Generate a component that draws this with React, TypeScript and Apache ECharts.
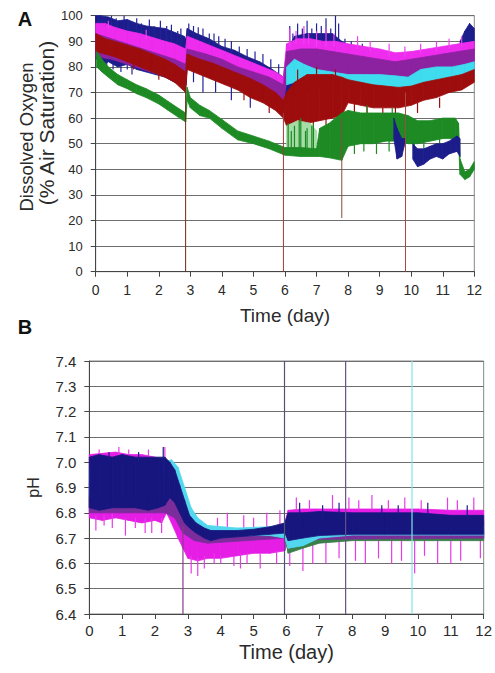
import React, { useEffect, useRef } from 'react';
import * as echarts from 'echarts';

type Row = [number, number, number]; // [day, low, high]

// ---------- Panel A: Dissolved oxygen (% air saturation), noisy bands ----------
const navyA: Row[] = [
  [0.0, 84, 100], [0.15, 80, 100], [0.4, 82, 99.5], [0.7, 80, 98], [1.0, 81, 98.5],
  [1.3, 79, 97], [1.6, 78, 96], [1.9, 77, 95.5], [2.2, 76, 95], [2.5, 74, 93.5],
  [2.8, 73, 92], [2.86, 73, 91], [2.9, 80, 95], [3.2, 79, 93], [3.6, 77, 91],
  [4.0, 74, 88], [4.4, 72, 86.5], [4.8, 70, 84], [5.2, 68, 82], [5.6, 66, 79],
  [5.95, 64, 76], [6.05, 66, 86], [6.3, 68, 92], [6.7, 70, 93], [7.1, 72, 93],
  [7.5, 74, 93], [7.8, 74, 90], [8.2, 74, 87], [8.6, 74, 86], [9.0, 73, 85], [9.4, 72, 84],
];
const navyEndA: Row[] = [[11.55, 84, 90], [11.7, 86, 94], [11.85, 87, 97], [12.0, 86, 95]];
const navyDipA1: Row[] = [[9.45, 52, 60], [9.55, 44, 56], [9.7, 45, 52], [9.8, 50, 52]];
const navyDipA2: Row[] = [
  [10.05, 44, 50], [10.2, 41, 48], [10.4, 42, 48], [10.6, 44, 49], [10.8, 45, 50],
  [11.0, 44, 50], [11.2, 46, 51], [11.45, 47, 53], [11.55, 45, 52],
];
const navySpikesA: Row[] = [
  [0.1, 96, 100], [0.2, 95, 100], [0.3, 94, 99], [0.5, 94, 100], [0.65, 93, 99], [0.9, 93, 100],
  [1.05, 92, 98], [1.3, 92, 99], [1.45, 91, 97], [1.7, 91, 98.5], [1.85, 90, 96], [2.05, 90, 98],
  [2.25, 89, 96], [2.4, 89, 96.5], [2.6, 88, 94], [2.7, 88, 95], [2.95, 92, 97], [3.1, 91, 96],
  [3.25, 90, 95.5], [3.4, 89, 95], [3.6, 88, 93], [3.75, 87, 93], [3.9, 86, 92], [4.1, 85, 91],
  [4.3, 84, 90], [4.55, 83, 88], [4.8, 81, 87], [5.05, 80, 86], [5.3, 79, 85], [5.55, 78, 83],
  [5.8, 76, 81], [6.15, 88, 96], [6.25, 88, 93], [6.4, 89, 97], [6.55, 89, 95], [6.7, 90, 98],
  [6.85, 90, 95], [7.0, 90, 97], [7.15, 90, 96], [7.3, 89, 99], [7.45, 89, 95], [7.6, 88, 100],
  [7.7, 88, 97], [7.9, 86, 91], [8.1, 85, 90], [8.3, 85, 89], [8.45, 84, 89],
  [0.35, 77, 84], [0.55, 79, 84], [0.8, 78, 83], [1.0, 79, 83], [1.15, 77, 82], [3.1, 74, 80],
  [3.4, 70, 78], [3.8, 70, 76], [4.3, 67, 73], [4.9, 64, 70],
];
const magentaA: Row[] = [
  [0.0, 88, 97], [0.3, 87, 97], [0.6, 86, 95.5], [1.0, 85, 94], [1.4, 83, 93],
  [1.8, 81, 91.5], [2.2, 80, 90], [2.5, 78, 89], [2.85, 76, 87], [2.9, 83, 92],
  [3.3, 81, 90], [3.7, 79, 88], [4.1, 77, 86], [4.5, 75, 84], [4.9, 73, 82],
  [5.3, 71, 80], [5.7, 69, 78], [5.95, 67, 76], [6.05, 76, 89], [6.4, 78, 91],
  [6.8, 79, 91], [7.2, 79, 90], [7.6, 80, 90], [8.0, 79, 89], [8.5, 78, 88],
  [9.0, 77, 87], [9.5, 77, 85.5], [10.0, 78, 86], [10.5, 79, 87], [11.0, 79, 88],
  [11.5, 80, 89], [12.0, 81, 90],
];
const magentaSpikesA: Row[] = [
  [6.15, 88, 95], [6.35, 89, 94], [6.6, 89, 96], [6.75, 89, 93], [7.0, 88, 94], [7.3, 88, 95],
  [7.55, 88, 93], [8.3, 87, 92], [8.7, 86, 90], [9.3, 84, 89], [9.8, 84, 88], [10.3, 85, 89],
  [10.8, 86, 90], [11.2, 87, 91], [11.6, 88, 92], [0.4, 95, 98], [1.6, 91, 94.5],
];
const purpleA: Row[] = [
  [0.0, 84, 93], [0.5, 83, 91], [1.0, 81, 89], [1.5, 79, 87], [2.0, 77, 85],
  [2.5, 75, 83], [2.85, 73, 81], [2.9, 80, 87], [3.5, 78, 85], [4.0, 76, 83],
  [4.5, 73, 80], [5.0, 71, 78], [5.5, 69, 76], [5.95, 66, 73], [6.05, 74, 86],
  [6.5, 76, 87], [7.0, 76, 87], [7.5, 76, 86], [8.0, 75, 85], [8.5, 74, 84],
  [9.0, 73, 83], [9.5, 73, 82], [10.0, 74, 83], [10.5, 75, 84], [11.0, 76, 85],
  [11.5, 77, 86], [12.0, 78, 87],
];
const cyanA: Row[] = [
  [6.05, 73, 80], [6.3, 74, 83], [6.6, 74, 81], [7.0, 73, 79], [7.5, 72, 78],
  [8.0, 72, 77], [8.5, 71, 77], [9.0, 71, 77], [9.5, 70, 76.5], [9.9, 70, 76],
  [10.3, 73, 79], [10.8, 74, 80], [11.3, 75, 80], [11.7, 76, 81], [12.0, 77, 82],
];
const redA: Row[] = [
  [0.0, 86, 93], [0.3, 85, 91], [0.6, 84, 90], [1.0, 82, 88.5], [1.4, 80, 87],
  [1.8, 78, 85], [2.2, 76, 83], [2.5, 74, 81], [2.85, 70, 78], [2.9, 79, 85],
  [3.3, 77, 83], [3.7, 75, 81.5], [4.1, 73, 79.5], [4.5, 71, 77.5], [4.9, 68, 75.5],
  [5.3, 66, 73], [5.7, 63, 70], [5.95, 60, 67], [6.05, 57, 70], [6.3, 57, 74],
  [6.7, 58, 77], [7.1, 59, 77], [7.5, 60, 77], [7.8, 61, 76], [8.0, 66, 75],
  [8.4, 65, 74], [8.8, 64, 73], [9.2, 64, 72.5], [9.6, 64, 72], [10.0, 65, 72.5],
  [10.4, 67, 74], [10.8, 68, 75], [11.2, 70, 76], [11.6, 71, 77], [12.0, 74, 79],
];
const redSpikesA: Row[] = [
  [6.2, 55, 60], [6.5, 54, 58], [6.9, 55, 59], [7.3, 56, 61], [8.2, 60, 66], [8.6, 61, 65],
  [9.1, 60, 64], [9.5, 61, 65], [10.2, 62, 66], [10.9, 64, 68], [6.4, 70, 79], [7.0, 72, 80], [7.6, 72, 79],
  [1.2, 79, 83], [2.0, 75, 79], [4.7, 67, 71], [5.5, 62, 66],
];
const lightGreenA: Row[] = [[6.05, 47, 57], [6.4, 47, 59], [6.8, 47, 58], [7.0, 47, 55]];
const greenA: Row[] = [
  [0.03, 80, 86], [0.2, 78, 83], [0.4, 76, 80], [0.7, 73, 77], [1.0, 71.5, 75],
  [1.3, 69.5, 73], [1.6, 68, 71.5], [2.0, 65.5, 69], [2.3, 63, 66.5], [2.6, 60.5, 64],
  [2.85, 58.5, 62], [2.9, 67, 72], [3.0, 64, 68], [3.3, 61, 65], [3.6, 60, 63],
  [4.0, 56, 59.5], [4.5, 51.5, 55], [5.0, 50, 53], [5.5, 48, 51], [6.0, 45.5, 48.5],
  [6.5, 45, 48.5], [7.0, 45, 48], [7.1, 45, 56], [7.4, 44.5, 58], [7.8, 43.5, 62],
  [8.0, 49, 63], [8.4, 50, 62], [8.8, 50, 62], [9.2, 51, 62], [9.6, 51, 62],
  [9.9, 50, 61], [10.2, 50, 59], [10.6, 51, 59], [11.0, 52, 60], [11.4, 52, 60],
  [11.5, 50, 58], [11.55, 38, 44], [11.7, 36, 39], [11.85, 37, 40], [12.0, 40, 43],
];
const greenSpikesA: Row[] = [
  [6.1, 47, 58], [6.2, 48, 55], [6.3, 47, 57], [6.45, 48, 59], [6.5, 47, 60], [6.65, 48, 55],
  [6.7, 47, 56], [6.85, 48, 57], [6.9, 47, 58], [8.2, 46, 50], [8.5, 47, 51], [8.9, 46, 51],
  [9.3, 47, 52], [9.7, 47, 51], [10.1, 47, 51], [10.4, 48, 52], [10.9, 48, 52], [11.3, 47, 52],
  [8.6, 62, 65], [9.4, 62, 64],
];
// sampling events: [day, low, high]
const dropsA: Row[] = [[2.85, 0, 73], [5.95, 0, 62], [7.8, 21, 60], [9.82, 0, 70]];

// ---------- Panel B: pH ----------
const magentaB: Row[] = [
  [0.0, 6.78, 7.03], [0.4, 6.77, 7.035], [0.8, 6.78, 7.04], [1.2, 6.77, 7.03],
  [1.6, 6.76, 7.03], [2.0, 6.77, 7.02], [2.2, 6.76, 7.01], [2.35, 6.8, 6.98],
  [2.5, 6.76, 6.9], [2.7, 6.7, 6.82], [2.85, 6.66, 6.76], [3.0, 6.62, 6.74],
  [3.3, 6.61, 6.72], [3.6, 6.62, 6.71], [4.0, 6.62, 6.72], [4.5, 6.63, 6.72],
  [5.0, 6.64, 6.72], [5.5, 6.64, 6.73], [5.95, 6.65, 6.76], [6.05, 6.69, 6.81],
  [6.5, 6.7, 6.815], [7.0, 6.7, 6.815], [8.0, 6.7, 6.815], [9.0, 6.7, 6.815],
  [10.0, 6.7, 6.815], [11.0, 6.7, 6.81], [12.0, 6.7, 6.81],
];
const magentaSpikesB: Row[] = [
  [0.7, 6.74, 6.8], [1.1, 6.71, 6.78], [1.9, 6.72, 6.78], [2.2, 6.72, 6.78],
  [0.2, 6.73, 6.79], [0.45, 6.75, 6.79], [1.4, 6.74, 6.78], [1.7, 6.72, 6.78],
  [0.3, 7.02, 7.05], [0.9, 7.0, 7.06], [1.2, 7.02, 7.05], [1.8, 7.02, 7.05], [2.3, 7.0, 7.06],
  [3.1, 6.56, 6.63], [3.3, 6.55, 6.62], [3.5, 6.58, 6.63], [3.8, 6.6, 6.64], [4.0, 6.6, 6.63],
  [4.4, 6.59, 6.63], [4.6, 6.58, 6.64], [4.8, 6.6, 6.64], [5.2, 6.58, 6.64], [5.7, 6.6, 6.65],
  [3.9, 6.71, 6.78], [4.2, 6.72, 6.8], [4.7, 6.72, 6.79], [5.0, 6.72, 6.78], [5.4, 6.73, 6.8], [5.8, 6.74, 6.81],
  [6.1, 6.59, 6.7], [6.5, 6.57, 6.7], [6.8, 6.6, 6.7], [7.2, 6.6, 6.7], [7.6, 6.62, 6.7],
  [8.1, 6.61, 6.7], [8.4, 6.6, 6.7], [8.8, 6.62, 6.7], [9.2, 6.6, 6.7], [9.5, 6.61, 6.7],
  [9.9, 6.56, 6.7], [10.2, 6.63, 6.7], [10.6, 6.6, 6.7], [11.0, 6.6, 6.7], [11.3, 6.61, 6.7], [11.9, 6.62, 6.7],
  [6.3, 6.81, 6.86], [6.7, 6.81, 6.85], [7.4, 6.81, 6.87], [7.9, 6.81, 6.86], [8.2, 6.81, 6.85],
  [8.6, 6.81, 6.87], [9.1, 6.81, 6.85], [9.6, 6.81, 6.86], [10.1, 6.81, 6.85], [10.9, 6.81, 6.86],
  [11.2, 6.81, 6.85], [11.7, 6.81, 6.86],
];
const greenB: Row[] = [
  [0.0, 6.82, 6.87], [1.3, 6.82, 6.87], [2.3, 6.83, 6.88], [2.45, 6.84, 6.9],
  [2.75, 6.78, 6.86], [3.0, 6.73, 6.78], [3.5, 6.7, 6.73], [5.95, 6.71, 6.74],
  [6.05, 6.64, 6.7], [6.5, 6.66, 6.71], [7.0, 6.68, 6.72], [8.0, 6.69, 6.73], [12.0, 6.69, 6.73],
];
const purpleB: Row[] = [
  [0.0, 6.8, 6.92], [2.3, 6.8, 6.92], [2.6, 6.78, 6.88], [2.85, 6.72, 6.8],
  [3.2, 6.69, 6.74], [3.6, 6.68, 6.72], [5.95, 6.7, 6.74], [6.05, 6.68, 6.76],
  [7.0, 6.695, 6.77], [12.0, 6.7, 6.77],
];
const cyanB: Row[] = [
  [0.0, 6.86, 6.98], [2.3, 6.86, 7.0], [2.5, 6.88, 7.01], [2.7, 6.86, 6.98],
  [2.9, 6.8, 6.9], [3.1, 6.76, 6.82], [3.3, 6.74, 6.78], [3.6, 6.72, 6.75],
  [4.5, 6.71, 6.74], [5.5, 6.71, 6.745], [5.95, 6.7, 6.75], [6.05, 6.66, 6.74],
  [6.5, 6.67, 6.74], [7.0, 6.7, 6.75], [8.0, 6.712, 6.75], [12.0, 6.712, 6.75],
];
const navyB: Row[] = [
  [0.0, 6.82, 7.02], [0.3, 6.81, 7.03], [0.7, 6.82, 7.02], [1.0, 6.82, 7.03],
  [1.4, 6.82, 7.02], [1.8, 6.81, 7.02], [2.1, 6.82, 7.02], [2.3, 6.83, 7.02],
  [2.45, 6.86, 7.0], [2.6, 6.84, 6.97], [2.75, 6.8, 6.91], [2.9, 6.76, 6.85],
  [3.05, 6.74, 6.79], [3.25, 6.72, 6.76], [3.5, 6.7, 6.74], [3.7, 6.69, 6.73],
  [4.0, 6.7, 6.73], [4.5, 6.705, 6.73], [5.0, 6.71, 6.735], [5.5, 6.715, 6.745],
  [5.95, 6.72, 6.76], [6.05, 6.69, 6.8], [6.5, 6.7, 6.8], [7.0, 6.71, 6.805],
  [8.0, 6.715, 6.8], [9.0, 6.715, 6.8], [10.0, 6.715, 6.8], [11.0, 6.715, 6.79], [12.0, 6.715, 6.79],
];
const navySpikesB: Row[] = [
  [2.25, 6.95, 7.06], [1.5, 7.0, 7.04], [0.6, 7.0, 7.04], [6.4, 6.78, 6.84], [7.6, 6.78, 6.84],
  [8.9, 6.78, 6.83], [10.3, 6.78, 6.84], [11.5, 6.78, 6.83], [7.1, 6.78, 6.83], [9.4, 6.78, 6.83],
];
const dropsB: Row[] = [[2.85, 6.4, 6.75], [5.94, 6.4, 7.4], [7.8, 6.4, 7.4], [9.82, 6.4, 7.4]];

const xTicks = { min: 0, max: 12, interval: 1 };

const FONT = "'Liberation Sans', Arial, Helvetica, sans-serif";
const TXT = '#2a2a2a';

function band(name: string, data: Row[], color: string, gi: number) {
  return {
    name, type: 'custom', xAxisIndex: gi, yAxisIndex: gi, silent: true, data,
    encode: { x: 0, y: [1, 2] },
    renderItem: (params: any, api: any) => {
      const i = params.dataIndex;
      if (i >= data.length - 1) return { type: 'group', children: [] };
      const a = data[i], b = data[i + 1];
      const pts = [api.coord([a[0], a[2]]), api.coord([b[0], b[2]]), api.coord([b[0], b[1]]), api.coord([a[0], a[1]])];
      return { type: 'polygon', shape: { points: pts }, style: { fill: color, stroke: color, lineWidth: 0.8 } };
    },
  };
}

function segs(name: string, data: Row[], colors: string | string[], gi: number, w = 1.2) {
  return {
    name, type: 'custom', xAxisIndex: gi, yAxisIndex: gi, silent: true, data,
    encode: { x: 0, y: [1, 2] },
    renderItem: (params: any, api: any) => {
      const p1 = api.coord([api.value(0), api.value(1)]);
      const p2 = api.coord([api.value(0), api.value(2)]);
      const c = Array.isArray(colors) ? colors[params.dataIndex % colors.length] : colors;
      return { type: 'line', shape: { x1: p1[0], y1: p1[1], x2: p2[0], y2: p2[1] }, style: { stroke: c, lineWidth: w } };
    },
  };
}

const axisCommon = {
  axisLine: { show: true, lineStyle: { color: '#444', width: 1 } },
  axisTick: { show: true, length: 5, lineStyle: { color: '#444' } },
};

export default function App() {
  const ref = useRef<HTMLDivElement>(null);
  useEffect(() => {
    if (!ref.current) return;
    const chart = echarts.init(ref.current, null, { renderer: 'svg' });
    chart.setOption({
      animation: false,
      backgroundColor: '#ffffff',
      textStyle: { fontFamily: FONT },
      grid: [
        { left: 95.7, top: 15.7, width: 378.6, height: 256, show: true, borderColor: '#888', borderWidth: 1 },
        { left: 89.3, top: 361, width: 396.7, height: 253, show: true, borderColor: '#888', borderWidth: 1 },
      ],
      xAxis: [
        {
          type: 'value', gridIndex: 0, ...xTicks, ...axisCommon,
          splitLine: { show: false },
          axisLabel: { fontSize: 14, color: TXT, margin: 11, fontFamily: FONT },
          name: 'Time (day)', nameLocation: 'middle', nameGap: 44,
          nameTextStyle: { fontSize: 19, color: TXT, fontFamily: FONT, verticalAlign: 'middle' },
        },
        {
          type: 'value', gridIndex: 1, ...xTicks, ...axisCommon,
          splitLine: { show: false },
          axisLabel: { fontSize: 15, color: TXT, margin: 9, fontFamily: FONT },
          name: 'Time (day)', nameLocation: 'middle', nameGap: 38,
          nameTextStyle: { fontSize: 20, color: TXT, fontFamily: FONT, verticalAlign: 'middle' },
        },
      ],
      yAxis: [
        {
          type: 'value', gridIndex: 0, min: 0, max: 100, interval: 10, ...axisCommon,
          splitLine: { show: true, lineStyle: { color: '#6e6e6e', width: 1 } },
          axisLabel: { fontSize: 13, color: TXT, margin: 13, fontFamily: FONT },
        },
        {
          type: 'value', gridIndex: 1, min: 6.4, max: 7.4, interval: 0.1, ...axisCommon,
          splitLine: { show: true, lineStyle: { color: '#6e6e6e', width: 1 } },
          axisLabel: { fontSize: 15, color: TXT, margin: 13, fontFamily: FONT, formatter: (v: number) => v.toFixed(1) },
          name: 'pH', nameLocation: 'middle', nameGap: 56,
          nameTextStyle: { fontSize: 16, color: TXT, fontFamily: FONT, verticalAlign: 'middle' },
        },
      ],
      graphic: [
        { type: 'text', x: 25, y: 19, style: { text: 'A', font: `bold 20px ${FONT}`, fill: '#111', align: 'center', verticalAlign: 'middle' } },
        { type: 'text', x: 25, y: 327, style: { text: 'B', font: `bold 20px ${FONT}`, fill: '#111', align: 'center', verticalAlign: 'middle' } },
        { type: 'text', x: 26, y: 137, rotation: Math.PI / 2, style: { text: 'Dissolved Oxygen', font: `18.5px ${FONT}`, fill: TXT, align: 'center', verticalAlign: 'middle' } },
        { type: 'text', x: 46, y: 123, rotation: Math.PI / 2, style: { text: '(% Air Saturation)', font: `21px ${FONT}`, fill: TXT, align: 'center', verticalAlign: 'middle' } },
      ],
      series: [
        // Panel A
        band('navyA', navyA, '#1c1c8a', 0),
        band('navyEndA', navyEndA, '#1c1c8a', 0),
        segs('navySpikesA', navySpikesA, '#22229a', 0),
        band('magentaA', magentaA, '#ee2cee', 0),
        segs('magentaSpikesA', magentaSpikesA, '#f040f0', 0),
        band('purpleA', purpleA, '#8c22a0', 0),
        band('cyanA', cyanA, '#3fdcef', 0),
        band('redA', redA, '#9e0d0d', 0),
        segs('redSpikesA', redSpikesA, '#9e0d0d', 0),
        band('lightGreenA', lightGreenA, '#a6dca6', 0),
        band('greenA', greenA, '#1d8a24', 0),
        segs('greenSpikesA', greenSpikesA, '#1d8a24', 0),
        band('navyDipA1', navyDipA1, '#1c1c8a', 0),
        band('navyDipA2', navyDipA2, '#1c1c8a', 0),
        segs('dropsA', dropsA, ['#6b2b1b', '#a33a3a', '#8a4a3a', '#a84848'], 0, 1),
        // Panel B
        band('magentaB', magentaB, '#e51de5', 1),
        segs('magentaSpikesB', magentaSpikesB, '#e83ae8', 1),
        band('greenB', greenB, '#3a7e4a', 1),
        band('purpleB', purpleB, '#7b2d9c', 1),
        band('cyanB', cyanB, '#52d8ee', 1),
        band('navyB', navyB, '#16167e', 1),
        segs('navySpikesB', navySpikesB, '#1a1a88', 1),
        segs('dropsB', dropsB, ['#8a3a8a', '#55507a', '#66508a', '#7fe6e6'], 1, 1.2),
      ],
    });
    return () => chart.dispose();
  }, []);
  return <div ref={ref} style={{ position: 'fixed', left: 0, top: 0, width: 495, height: 673, background: '#fff' }} />;
}
